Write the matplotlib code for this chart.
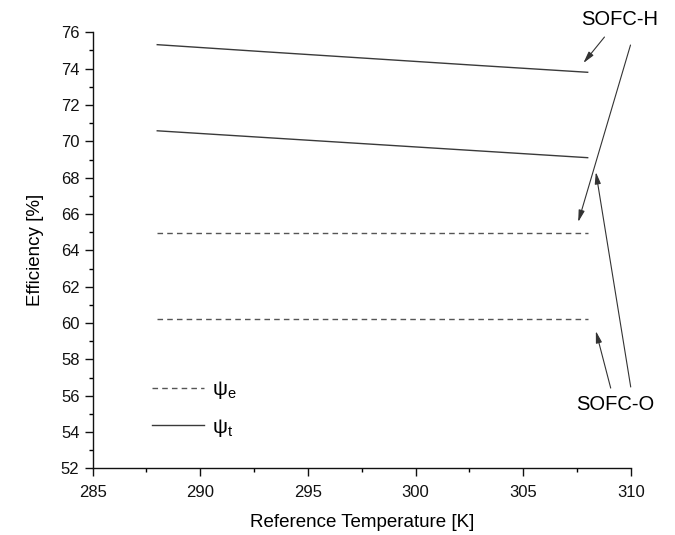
import matplotlib
matplotlib.use("Agg")
import matplotlib.pyplot as plt
from matplotlib.ticker import MultipleLocator
from matplotlib.lines import Line2D

plt.rcParams['font.family'] = ['Liberation Sans', 'DejaVu Sans']
plt.rcParams['mathtext.fontset'] = 'custom'
plt.rcParams['mathtext.rm'] = 'Liberation Sans'
plt.rcParams['mathtext.it'] = 'Liberation Sans'

# Reference temperature [K]
temps = [288, 293, 298, 303, 308]
# Total efficiency psi_t [%]
psi_t_h = [75.32, 74.93, 74.55, 74.17, 73.80]
psi_t_o = [70.58, 70.21, 69.84, 69.47, 69.10]
# Exergy-based efficiency psi_e [%]
psi_e_h = [64.95, 64.95, 64.95, 64.95, 64.95]
psi_e_o = [60.20, 60.20, 60.20, 60.20, 60.20]

fig = plt.figure(figsize=(6.75, 5.35), dpi=100)
ax = fig.add_axes([0.1373, 0.1245, 0.7971, 0.8151])

solid_c = '#3a3a3a'
dash_c = '#555555'
ax.plot(temps, psi_t_h, color=solid_c, lw=1.0)
ax.plot(temps, psi_t_o, color=solid_c, lw=1.0)
ax.plot(temps, psi_e_h, color=dash_c, lw=1.0, ls=(0, (4, 3)))
ax.plot(temps, psi_e_o, color=dash_c, lw=1.0, ls=(0, (4, 3)))

ax.set_xlim(285, 310)
ax.set_ylim(52, 76)
ax.xaxis.set_major_locator(MultipleLocator(5))
ax.xaxis.set_minor_locator(MultipleLocator(2.5))
ax.yaxis.set_major_locator(MultipleLocator(2))
ax.yaxis.set_minor_locator(MultipleLocator(1))
ax.tick_params(which='major', direction='out', length=6, width=1, labelsize=12,
               colors='#111111')
ax.tick_params(axis='x', which='major', pad=6)
ax.tick_params(which='minor', direction='out', length=3, width=1)
for s in ('top', 'right'):
    ax.spines[s].set_visible(False)
for s in ('left', 'bottom'):
    ax.spines[s].set_linewidth(1.0)
    ax.spines[s].set_color('#111111')

ax.set_xlabel('Reference Temperature [K]', fontsize=13.5, labelpad=10)
ax.set_ylabel('Efficiency [%]', fontsize=13.5, labelpad=12)

handles = [Line2D([], [], color=dash_c, lw=1.0, ls=(0, (4, 3))),
           Line2D([], [], color=solid_c, lw=1.0)]
ax.legend(handles, ['ψ$_\\mathrm{e}$', 'ψ$_\\mathrm{t}$'], loc='lower left',
          bbox_to_anchor=(0.075, 0.025), frameon=False, fontsize=15,
          handlelength=2.5, handletextpad=0.4, labelspacing=0.75)

arrow_kw = dict(arrowstyle='-|>,head_length=0.7,head_width=0.18', color='#333333',
                lw=0.8, shrinkA=0, shrinkB=0)

ax.text(309.5, 76.68, 'SOFC-H', fontsize=14.5, ha='center', va='center', clip_on=False)
ax.annotate('', xy=(307.80, 74.31), xytext=(308.78, 75.74),
            arrowprops=arrow_kw, annotation_clip=False)
ax.annotate('', xy=(307.56, 65.56), xytext=(309.99, 75.30),
            arrowprops=arrow_kw, annotation_clip=False)

ax.text(309.29, 55.49, 'SOFC-O', fontsize=14.5, ha='center', va='center', clip_on=False)
ax.annotate('', xy=(308.38, 59.56), xytext=(309.07, 56.42),
            arrowprops=arrow_kw, annotation_clip=False)
ax.annotate('', xy=(308.38, 68.31), xytext=(310.0, 56.48),
            arrowprops=arrow_kw, annotation_clip=False)

fig.savefig('out.png', dpi=100, facecolor='white')
